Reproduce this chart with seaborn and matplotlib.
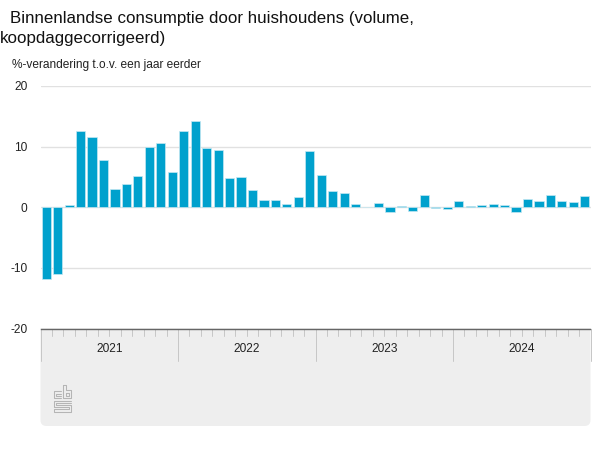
import matplotlib
matplotlib.use("Agg")
import matplotlib.pyplot as plt
from matplotlib.patches import PathPatch
from matplotlib.path import Path
from matplotlib.lines import Line2D
from matplotlib.transforms import IdentityTransform
import pandas as pd
import seaborn as sns

months = ["jan", "feb", "mrt", "apr", "mei", "jun", "jul", "aug", "sep", "okt", "nov", "dec"]
years = ["2021", "2022", "2023", "2024"]
values_2021 = [-11.9, -11.0, 0.3, 12.6, 11.6, 7.85, 3.0, 3.85, 5.2, 9.95, 10.6, 5.8]
values_2022 = [12.6, 14.2, 9.8, 9.5, 4.8, 5.0, 2.85, 1.2, 1.2, 0.55, 1.7, 9.2]
values_2023 = [5.4, 2.7, 2.4, 0.6, 0.1, 0.77, -0.85, 0.27, -0.65, 2.1, -0.1, -0.3]
values_2024 = [0.95, 0.27, 0.44, 0.6, 0.44, -0.8, 1.3, 1.1, 2.1, 0.95, 0.8, 1.8]
y_ticks = [-20, -10, 0, 10, 20]
title_line1 = "Binnenlandse consumptie door huishoudens (volume,"
title_line2 = "koopdaggecorrigeerd)"
unit_text = "%-verandering t.o.v. een jaar eerder"

labels = [f"{m} {y}" for y in years for m in months]
values = values_2021 + values_2022 + values_2023 + values_2024
df = pd.DataFrame({"maand": labels, "waarde": values})

sns.set_theme(style="white")
plt.rcParams["font.family"] = ["Liberation Sans", "DejaVu Sans"]

W, H = 600, 450
fig = plt.figure(figsize=(6, 4.5), dpi=100, facecolor="white")
L, R, T, B = 40.5, 590.5, 86.0, 328.5
ax = fig.add_axes([L / W, 1 - B / H, (R - L) / W, (B - T) / H])
px_tr = IdentityTransform()

def fx(px):
    return px / W

def fy(py):
    return 1 - py / H

# grey footer panel: square top, rounded lower corners
top, bot, r = H - B, H - 426, 6
verts = [(L, top), (R, top), (R, bot + r), (R, bot), (R - r, bot), (L + r, bot), (L, bot), (L, bot + r), (L, top)]
codes = [Path.MOVETO, Path.LINETO, Path.LINETO, Path.CURVE3, Path.CURVE3, Path.LINETO, Path.CURVE3, Path.CURVE3, Path.CLOSEPOLY]
fig.add_artist(PathPatch(Path(verts, codes), transform=px_tr, fc="#eeeeee", ec="none", zorder=0.5))

sns.barplot(data=df, x="maand", y="waarde", ax=ax, color="#00a1cd", saturation=1,
            width=0.8, edgecolor="#c4e8f2", linewidth=0.5, zorder=3)
ax.set_xlim(-0.5, len(labels) - 0.5)
ax.set_ylim(-20, 20)
ax.set_yticks(y_ticks)
ax.set_yticklabels([str(v) for v in y_ticks], fontsize=8.6, color="#222222")
ax.set_xticks([])
ax.set_xlabel("")
ax.set_ylabel("")
ax.tick_params(axis="y", length=0, pad=9.5)
ax.yaxis.grid(True, color="#e1e1e1", linewidth=1, zorder=0)
ax.set_axisbelow(True)
for s in ["top", "left", "right"]:
    ax.spines[s].set_visible(False)
ax.spines["bottom"].set_color("#666666")
ax.spines["bottom"].set_linewidth(1)
ax.patch.set_alpha(0)
ax.set_zorder(1)

# month and year ticks below the axis
n = len(labels)
for i in range(n + 1):
    px = L + (R - L) * i / n
    end = 360.5 if i % 12 == 0 else 336
    fig.add_artist(Line2D([fx(px), fx(px)], [fy(B), fy(end)], color="#c6c6c6", lw=0.7, zorder=0.8))
for k, y in enumerate(years):
    px = L + (R - L) * (12 * k + 6) / n
    fig.text(fx(px), fy(352.5), y, ha="center", va="baseline", fontsize=8.6, color="#222222")

# logo drawn as outline strokes
logo_paths = [
    [(61, 391), (53.5, 391), (53.5, 398), (61, 398)],
    [(61, 393.5), (56, 393.5), (56, 395.5), (61, 395.5)],
    [(63, 385), (63, 398), (71, 398), (71, 390), (65.5, 390), (65.5, 385), (63, 385)],
    [(65.5, 392.5), (68.5, 392.5), (68.5, 395.5), (65.5, 395.5), (65.5, 392.5)],
    [(71, 400.5), (53.5, 400.5), (53.5, 407), (68.5, 407), (68.5, 409), (53.5, 409), (53.5, 411.5), (71, 411.5), (71, 404.5), (56, 404.5), (56, 403), (71, 403)],
]
for pts in logo_paths:
    xs = [p[0] for p in pts]
    ys = [H - p[1] for p in pts]
    fig.add_artist(Line2D(xs, ys, transform=px_tr, color="#b5b5b5", lw=0.75, zorder=0.9))

fig.text(fx(10), fy(22.5), title_line1, ha="left", va="baseline", fontsize=12.2, color="#111111")
fig.text(0.0, fy(42.5), title_line2, ha="left", va="baseline", fontsize=12.2, color="#111111")
fig.text(fx(12), fy(68), unit_text, ha="left", va="baseline", fontsize=8.6, color="#222222")

fig.savefig("out.png", dpi=100)
